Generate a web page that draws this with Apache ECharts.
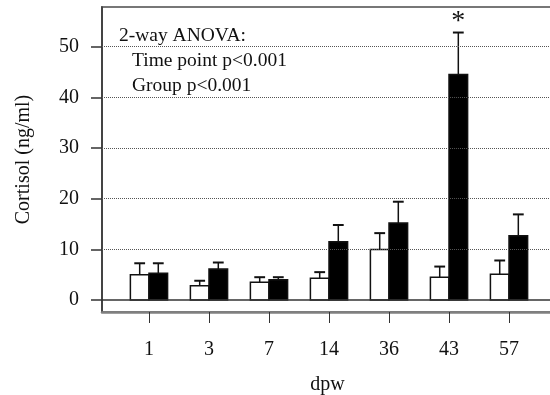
<!DOCTYPE html>
<html>
<head>
<meta charset="utf-8">
<script src="https://cdn.jsdelivr.net/npm/echarts@6/dist/echarts.min.js"></script>
<style>
  html, body { margin: 0; padding: 0; background: #fff; }
  #cortisol-chart { width: 550px; height: 395px; }
</style>
</head>
<body>
<div id="cortisol-chart"></div>
<script>
(function() {

  var days = ['1', '3', '7', '14', '36', '43', '57'];
  var yTicks = [0, 10, 20, 30, 40, 50];

  // 對照組 (白) 與 處理組 (黑): 平均值與 SEM
  var controlMean = [5.0, 2.8, 3.5, 4.3, 9.95, 4.5, 5.1];
  var controlSem = [2.25, 1.0, 1.0, 1.2, 3.25, 2.1, 2.7];
  var treatedMean = [5.3, 6.1, 4.0, 11.5, 15.2, 44.5, 12.7];
  var treatedSem = [1.95, 1.3, 0.5, 3.3, 4.2, 8.3, 4.2];
  var treatedSig = ['', '', '', '', '', '*', ''];

  var anovaLines = ['2-way ANOVA:', 'Time point p<0.001', 'Group p<0.001'];

  var FONT = "'Liberation Serif', 'Times New Roman', serif";
  var BAR_W = 0.31;
  var CAP = 0.09;

  var chartDom = document.getElementById('cortisol-chart');
  var chart = echarts.init(chartDom);

  function buildRows(mean, sem) {
    var rows = [];
    for (var i = 0; i < mean.length; i++) {
      rows.push([i + 1, mean[i], sem[i]]);
    }
    return rows;
  }

  function makeRender(side, fill, marks) {
    return function(params, api) {
      var x = api.value(0), m = api.value(1), s = api.value(2);
      var x0 = side < 0 ? x - BAR_W : x;
      var x1 = x0 + BAR_W;
      var cx = (x0 + x1) / 2;
      var pTop = api.coord([x0, m]);
      var pBot = api.coord([x1, 0]);
      var pc = api.coord([cx, m]);
      var pe = api.coord([cx, m + s]);
      var cl = api.coord([cx - CAP, m + s]);
      var cr = api.coord([cx + CAP, m + s]);
      var children = [
        {
          type: 'line',
          shape: { x1: pc[0], y1: pc[1], x2: pe[0], y2: pe[1] },
          style: { stroke: '#111', lineWidth: 1.5 }
        },
        {
          type: 'line',
          shape: { x1: cl[0], y1: cl[1], x2: cr[0], y2: cr[1] },
          style: { stroke: '#111', lineWidth: 2 }
        },
        {
          type: 'rect',
          shape: { x: pTop[0], y: pTop[1], width: pBot[0] - pTop[0], height: pBot[1] - pTop[1] },
          style: { fill: fill, stroke: '#111', lineWidth: 1.5 }
        }
      ];
      if (marks && marks[params.dataIndex]) {
        children.push({
          type: 'text',
          x: pe[0],
          y: pe[1] - 11,
          style: { text: marks[params.dataIndex], font: '28px ' + FONT, fill: '#111', align: 'center', verticalAlign: 'middle' }
        });
      }
      return { type: 'group', children: children };
    };
  }

  var gridLines = [];
  for (var g = 1; g < yTicks.length; g++) {
    gridLines.push({ yAxis: yTicks[g], lineStyle: { type: 'dotted', color: '#555', width: 1 } });
  }
  gridLines.push({ yAxis: 0, lineStyle: { type: 'solid', color: '#333', width: 1.5 } });

  var anovaText = [];
  for (var k = 0; k < anovaLines.length; k++) {
    anovaText.push({
      type: 'text',
      left: k === 0 ? 119 : 132,
      top: 26 + k * 25,
      style: { text: anovaLines[k], font: '19.5px ' + FONT, fill: '#111' }
    });
  }

  var option = {
    animation: false,
    grid: {
      left: 102, top: 7, right: -3, bottom: 83,
      outerBoundsMode: 'none',
      containLabel: false,
      show: true, borderColor: '#777', borderWidth: 2
    },
    graphic: anovaText,
    xAxis: {
      type: 'value',
      min: 0.217,
      max: 7.733,
      name: 'dpw',
      nameLocation: 'middle',
      nameGap: 63,
      nameTextStyle: { fontFamily: FONT, fontSize: 20, color: '#111' },
      axisLine: { onZero: false, lineStyle: { color: '#808080', width: 2.5 } },
      axisTick: { customValues: [1, 2, 3, 4, 5, 6, 7], length: 11, lineStyle: { color: '#333', width: 1 } },
      axisLabel: {
        customValues: [1, 2, 3, 4, 5, 6, 7],
        margin: 28,
        fontFamily: FONT, fontSize: 20, color: '#111',
        formatter: function(v) { return days[Math.round(v) - 1]; }
      },
      splitLine: { show: false }
    },
    yAxis: {
      type: 'value',
      min: -2.37,
      max: 57.84,
      name: 'Cortisol (ng/ml)',
      nameLocation: 'middle',
      nameGap: 68,
      nameTextStyle: { fontFamily: FONT, fontSize: 20, color: '#111' },
      axisLine: { show: true, lineStyle: { color: '#333', width: 1.5 } },
      axisTick: { customValues: yTicks, length: 11, lineStyle: { color: '#333', width: 1.5 } },
      axisLabel: { customValues: yTicks, margin: 23, padding: [3, 0, 0, 0], fontFamily: FONT, fontSize: 20, color: '#111' },
      splitLine: { show: false }
    },
    series: [
      {
        type: 'custom',
        name: 'Control',
        renderItem: makeRender(-1, '#fff', null),
        encode: { x: 0, y: 1 },
        data: buildRows(controlMean, controlSem),
        markLine: {
          silent: true,
          symbol: 'none',
          label: { show: false },
          data: gridLines
        }
      },
      {
        type: 'custom',
        name: 'Treated',
        renderItem: makeRender(1, '#000', treatedSig),
        encode: { x: 0, y: 1 },
        data: buildRows(treatedMean, treatedSem)
      }
    ]
  };

  chart.setOption(option, true);

})();
</script>
</body>
</html>
